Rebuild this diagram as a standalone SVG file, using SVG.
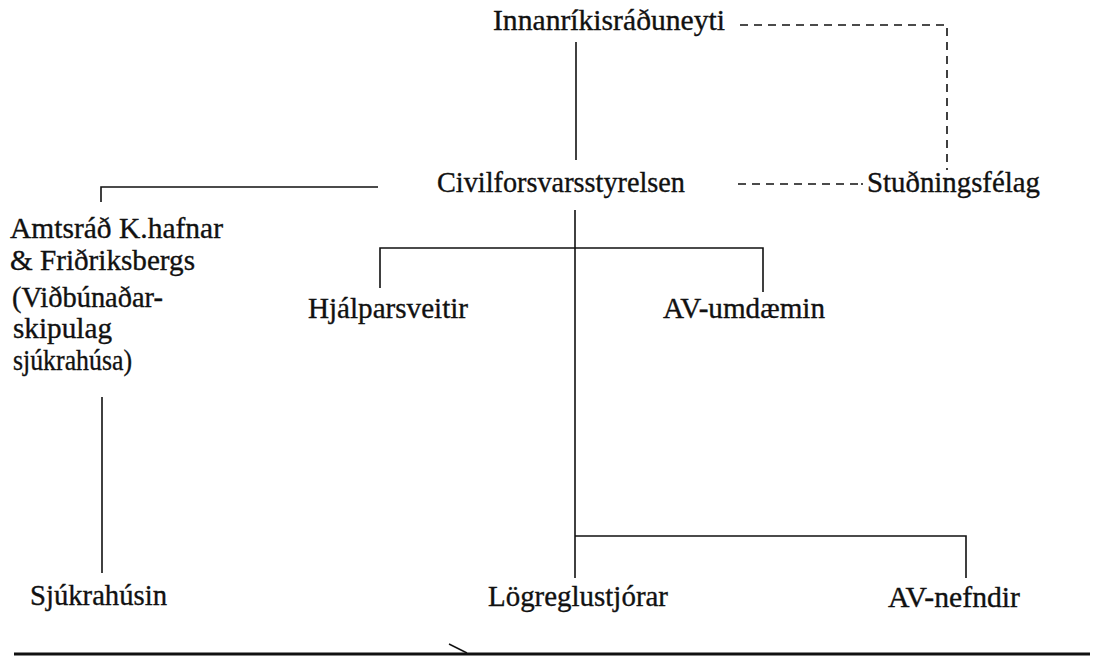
<svg xmlns="http://www.w3.org/2000/svg" width="1096" height="658" viewBox="0 0 1096 658">
<style>
text{font-family:"Liberation Serif","Times New Roman",serif;font-size:29px;fill:#111;stroke:#111;stroke-width:0.35}
.ln{stroke:#111;stroke-width:1.6;fill:none}
.ds{stroke:#111;stroke-width:1.6;fill:none;stroke-dasharray:8 6}
</style>
<rect width="1096" height="658" fill="#fff"/>
<g id="connectors">
<line class="ln" x1="576" y1="42" x2="576" y2="160"/>
<polyline class="ds" points="740,25 947,25 947,170"/>
<line class="ds" x1="738" y1="184" x2="858" y2="184"/>
<circle cx="862" cy="184" r="1" fill="#111"/>
<polyline class="ln" points="378,187 101,187 101,202"/>
<polyline class="ln" points="380,288 380,248 763,248 763,292"/>
<line class="ln" x1="575" y1="210" x2="575" y2="578"/>
<polyline class="ln" points="575,536 966,536 966,578"/>
<line class="ln" x1="102" y1="397" x2="102" y2="573"/>
<line x1="449" y1="644" x2="467" y2="653" stroke="#111" stroke-width="1.5"/>
<line x1="14" y1="654" x2="1090" y2="654" stroke="#111" stroke-width="3"/>
</g>
<g id="n-innanrikis"><text x="493" y="30" textLength="232" lengthAdjust="spacingAndGlyphs">Innanríkisráðuneyti</text></g>
<g id="n-civil"><text x="437" y="192" textLength="248" lengthAdjust="spacingAndGlyphs">Civilforsvarsstyrelsen</text></g>
<g id="n-studnings"><text x="867" y="192" textLength="173" lengthAdjust="spacingAndGlyphs">Stuðningsfélag</text></g>
<g id="n-amtsrad">
<text x="10" y="238" textLength="213" lengthAdjust="spacingAndGlyphs">Amtsráð K.hafnar</text>
<text x="10" y="270" textLength="185" lengthAdjust="spacingAndGlyphs">&amp; Friðriksbergs</text>
<text x="12" y="307" textLength="151" lengthAdjust="spacingAndGlyphs">(Viðbúnaðar-</text>
<text x="13" y="338" textLength="99" lengthAdjust="spacingAndGlyphs">skipulag</text>
<text x="13" y="370" textLength="119" lengthAdjust="spacingAndGlyphs">sjúkrahúsa)</text>
</g>
<g id="n-hjalpar"><text x="308" y="318" textLength="160" lengthAdjust="spacingAndGlyphs">Hjálparsveitir</text></g>
<g id="n-avumdaemin"><text x="663" y="318" textLength="162" lengthAdjust="spacingAndGlyphs">AV-umdæmin</text></g>
<g id="n-sjukrahusin"><text x="30" y="605" textLength="137" lengthAdjust="spacingAndGlyphs">Sjúkrahúsin</text></g>
<g id="n-logregla"><text x="488" y="606" textLength="180" lengthAdjust="spacingAndGlyphs">Lögreglustjórar</text></g>
<g id="n-avnefndir"><text x="888" y="607" textLength="132" lengthAdjust="spacingAndGlyphs">AV-nefndir</text></g>
</svg>
